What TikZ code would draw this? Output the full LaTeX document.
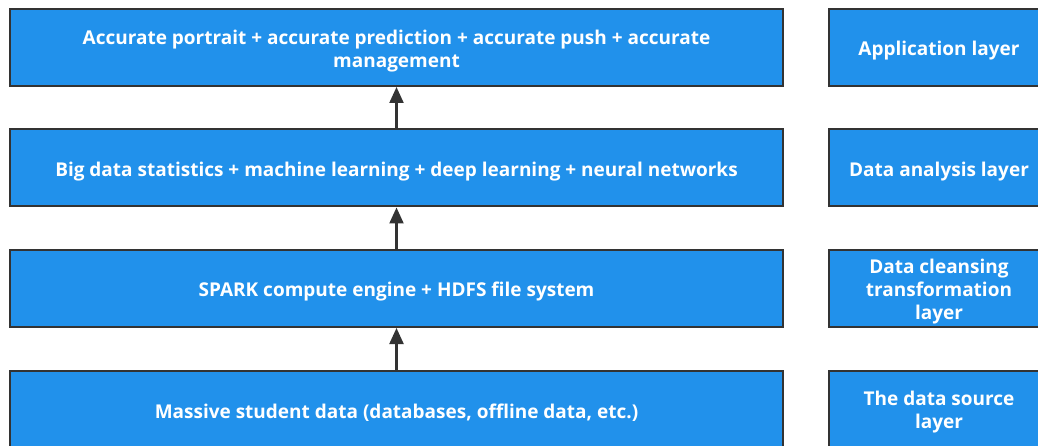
\documentclass[tikz,border=0pt]{standalone}
\usepackage{fontspec}
\setmainfont{Open Sans}
\usetikzlibrary{arrows.meta}
\definecolor{layerblue}{HTML}{2191EB}
\definecolor{edgegray}{HTML}{333333}
\tikzset{
  layer/.style={draw=edgegray, line width=2pt, fill=layerblue,
    inner sep=0pt, minimum height=77pt},
  wide/.style={layer, minimum width=773pt},
  side/.style={layer, minimum width=220pt},
  caption/.style={text=white, font=\fontsize{19}{23}\selectfont\bfseries,
    align=center, inner sep=0pt, yshift=-3.5pt},
  flow/.style={draw=edgegray, line width=2.2pt,
    -{Triangle[length=16pt,width=14pt]}}
}
\begin{document}
\begin{tikzpicture}[x=1pt,y=-1pt]
  \useasboundingbox (0,0) rectangle (1038,446);
  \clip (0,0) rectangle (1038,446);
  % main stack of the system
  \node[wide] (app) at (396.5,47.5)  {};
  \node[wide] (ana) at (396.5,168)   {};
  \node[wide] (cln) at (396.5,288.5) {};
  \node[wide] (src) at (396.5,409)   {};
  \node[caption] (appT) at (app.center) {Accurate portrait + accurate prediction + accurate push + accurate\\management};
  \node[caption] (anaT) at (ana.center) {Big data statistics + machine learning + deep learning + neural networks};
  \node[caption] (clnT) at (cln.center) {SPARK compute engine + HDFS file system};
  \node[caption] (srcT) at (src.center) {Massive student data (databases, offline data, etc.)};
  % layer names
  \node[side] (appL) at (939,47.5)  {};
  \node[side] (anaL) at (939,168)   {};
  \node[side] (clnL) at (939,288.5) {};
  \node[side] (srcL) at (939,409)   {};
  \node[caption] (appLT) at (appL.center) {Application layer};
  \node[caption] (anaLT) at (anaL.center) {Data analysis layer};
  \node[caption] (clnLT) at (clnL.center) {Data cleansing\\transformation\\layer};
  \node[caption] (srcLT) at (srcL.center) {The data source\\layer};
  % data flow upward
  \draw[flow] (src.north) -- (cln.south);
  \draw[flow] (cln.north) -- (ana.south);
  \draw[flow] (ana.north) -- (app.south);
\end{tikzpicture}
\end{document}
